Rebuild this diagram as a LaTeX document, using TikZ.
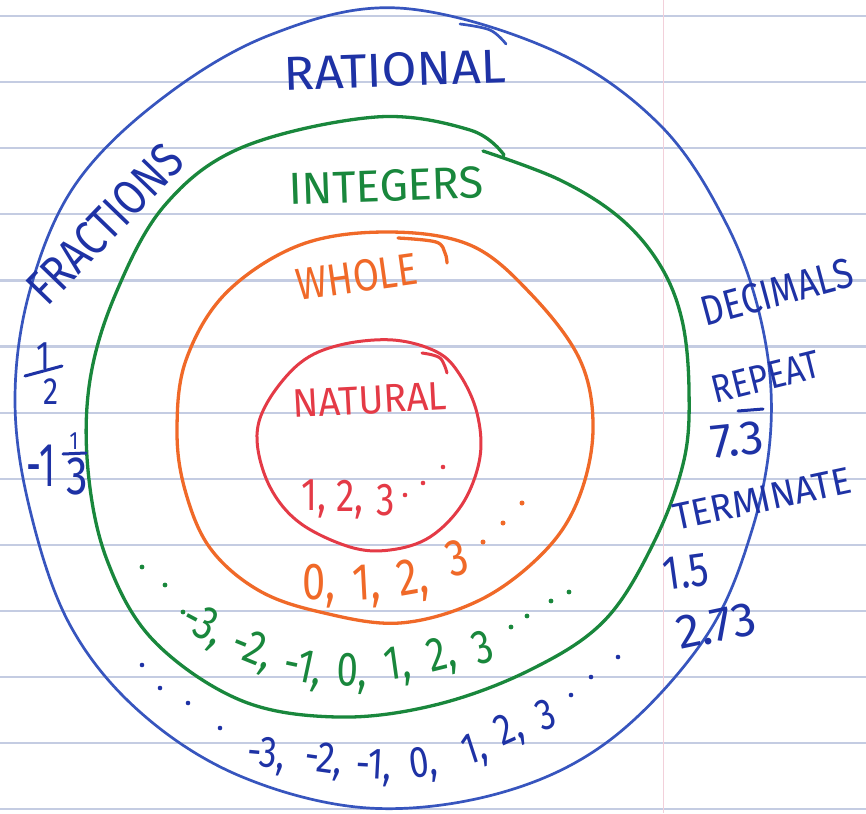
\documentclass[tikz,border=0pt]{standalone}
\usepackage{fontspec}
\setmainfont{Fira Sans}
\usepackage{graphicx}
\definecolor{inkblue}{RGB}{30,50,165}
\definecolor{ringblue}{RGB}{55,85,190}
\definecolor{inkgreen}{RGB}{25,135,60}
\definecolor{inkorange}{RGB}{240,105,40}
\definecolor{inkred}{RGB}{228,58,70}
\definecolor{rulecol}{RGB}{196,204,226}
\definecolor{margincol}{RGB}{242,208,218}
\newcommand\fitto[3]{\resizebox*{#1pt}{#2pt}{#3}}
\newcommand\nar[1]{\scalebox{0.8}[1]{#1}}
\begin{document}
\begin{tikzpicture}[x=1pt,y=-1pt,
  ring/.style={line width=3pt,line cap=round,line join=round},
  lbl/.style={inner sep=0pt,outer sep=0pt},
  bseq/.style={lbl,text=inkblue,font=\fontsize{44}{44}\selectfont},
  gseq/.style={lbl,text=inkgreen,font=\fontsize{48}{48}\selectfont},
  oseq/.style={lbl,text=inkorange,font=\fontsize{52}{52}\selectfont},
  rseq/.style={lbl,text=inkred,font=\fontsize{46}{46}\selectfont},
  bnum/.style={lbl,text=inkblue}]
\useasboundingbox (0,0) rectangle (866,813);
\fill[white] (0,0) rectangle (866,813);
% ruled paper
\foreach \k in {0,...,12}
  \draw[rulecol,line width=2.2pt] (0,{16+66.1*\k}) -- (866,{16+66.1*\k});
\draw[margincol,line width=1pt] (663,0) -- (663,813);

% rational (blue)
\draw[ring,ringblue,line width=2.7pt] plot[smooth cycle,tension=0.6] coordinates {
 (398,8) (552,50) (660,125) (727,225) (762,325) (771,425) (752,530)
 (705,638) (610,740) (500,793) (368,808) (240,776) (140,712) (70,625)
 (30,510) (15,400) (30,290) (75,185) (160,100) (270,35)};
\draw[ring,ringblue,line width=2.7pt] plot[smooth,tension=0.6] coordinates {(460,24) (490,30) (506,44)};

% integers (green)
\draw[ring,inkgreen,line width=3.3pt] plot[smooth,tension=0.6] coordinates {
 (483,151) (560,180) (620,218) (660,265) (682,320) (689,390) (684,460)
 (655,540) (605,620) (530,670) (435,705) (337,717) (240,700) (153,640)
 (107,560) (88,470) (90,380) (116,293) (165,205) (243,147) (376,117)
 (470,130) (504,155)};

% whole (orange)
\draw[ring,inkorange,line width=3.3pt] plot[smooth cycle,tension=0.6] coordinates {
 (387,232) (470,245) (530,293) (580,360) (593,430) (578,500) (543,553)
 (480,600) (400,623) (320,612) (258,590) (210,548) (185,490) (177,430)
 (186,360) (226,293) (300,245)};
\draw[ring,inkorange,line width=3.3pt] plot[smooth,tension=0.6] coordinates {(398,238) (436,242) (445,253) (447,263)};

% natural (red)
\draw[ring,inkred] plot[smooth cycle,tension=0.6] coordinates {
 (393,340) (437,352) (460,375) (477,413) (480,457) (463,503) (430,537)
 (390,550) (350,547) (300,523) (270,487) (257,440) (267,403) (300,363)
 (340,345)};
\draw[ring,inkred] plot[smooth,tension=0.6] coordinates {(422,353) (440,358) (447,373)};

% titles
\node[lbl,text=inkblue,rotate=2] (rational) at (395,70) {\fitto{222}{34}{RATIONAL}};
\node[lbl,text=inkblue,rotate=46] (fractions) at (105,224) {\fitto{200}{35}{FRACTIONS}};
\node[lbl,text=inkgreen,rotate=2] (integers) at (386,186) {\fitto{195}{32}{INTEGERS}};
\node[lbl,text=inkorange,rotate=8] (whole) at (357,277) {\fitto{122}{32}{WHOLE}};
\node[lbl,text=inkred,rotate=3] (natural) at (370,400) {\fitto{154}{28}{NATURAL}};
\node[lbl,text=inkblue,rotate=15] (decimals) at (777,292) {\fitto{155}{30}{DECIMALS}};
\node[lbl,text=inkblue,rotate=14] (repeat) at (766,377) {\fitto{110}{27}{REPEAT}};
\node[lbl,text=inkblue,rotate=12] (terminate) at (762,499) {\fitto{181}{26}{TERMINATE}};

% fractions examples
\node[bnum,font=\fontsize{40}{40}\selectfont] (halfnum) at (43,356) {\nar{1}};
\node[bnum,font=\fontsize{38}{38}\selectfont] (halfden) at (51,392) {\nar{2}};
\draw[inkblue,line width=3pt,line cap=round] (25,376) -- (62,366);
\node[bnum,font=\fontsize{62}{62}\selectfont] (mixwhole) at (41,466) {\scalebox{0.6}[1]{-1}};
\node[bnum,font=\fontsize{25}{25}\selectfont] (mixnum) at (74,441) {\nar{1}};
\draw[inkblue,line width=3pt,line cap=round] (63,454) -- (86,453);
\node[bnum,font=\fontsize{54}{54}\selectfont] (mixden) at (77,476) {\nar{3}};

% decimal examples
\node[bnum,font=\fontsize{48}{48}\selectfont,rotate=6] (seven) at (737,440) {7.3};
\draw[inkblue,line width=3pt,line cap=round] (738,411) -- (763,409);
\node[bnum,font=\fontsize{48}{48}\selectfont,rotate=8] (onefive) at (686,572) {\nar{1.5}};
\node[bnum,font=\fontsize{48}{48}\selectfont,rotate=12] (twoseventhree) at (716,626) {2.73};

% natural numbers
\node[rseq] (r1) at (314,499) {\nar{1,}};
\node[rseq] (r2) at (350,500) {\nar{2,}};
\node[rseq] (r3) at (386,500) {\nar{3}};
\foreach \p in {(405,495),(423,483),(443,467)} \fill[inkred] \p circle[radius=2.3pt];

% whole numbers
\node[oseq] (o1) at (319,586) {\nar{0,}};
\node[oseq,rotate=3] (o2) at (367,587) {\nar{1,}};
\node[oseq,rotate=10] (o3) at (413,581) {\nar{2,}};
\node[oseq,rotate=15] (o4) at (457,558) {\nar{3}};
\foreach \p in {(483,542),(503,523),(522,503)} \fill[inkorange] \p circle[radius=2.5pt];

% integers
\foreach \p in {(142,567),(165,585),(183,612),(511,627),(527,616),(551,601),(569,592)}
  \fill[inkgreen] \p circle[radius=2.4pt];
\node[gseq,rotate=-28] (g1) at (203,626) {\nar{-3,}};
\node[gseq,rotate=-22] (g2) at (252,651) {\nar{-2,}};
\node[gseq,rotate=-12] (g3) at (303,670) {\nar{-1,}};
\node[gseq,rotate=-2] (g4) at (352,674) {\nar{0,}};
\node[gseq,rotate=8] (g5) at (398,667) {\nar{1,}};
\node[gseq,rotate=14] (g6) at (442,657) {\nar{2,}};
\node[gseq,rotate=18] (g7) at (483,647) {\nar{3}};

% rationals
\foreach \p in {(142,665),(160,688),(188,703),(220,728),(571,695),(591,677),(618,657)}
  \fill[inkblue] \p circle[radius=2.3pt];
\node[bseq,rotate=-5] (b1) at (266,756) {\nar{-3,}};
\node[bseq,rotate=-8] (b2) at (324,761) {\nar{-2,}};
\node[bseq,rotate=-3] (b3) at (374,768) {\nar{-1,}};
\node[bseq,rotate=8] (b4) at (424,765) {\nar{0,}};
\node[bseq,rotate=18] (b5) at (475,751) {\nar{1,}};
\node[bseq,rotate=24] (b6) at (510,731) {\nar{2,}};
\node[bseq,rotate=20] (b7) at (546,715) {\nar{3}};
\end{tikzpicture}
\end{document}
